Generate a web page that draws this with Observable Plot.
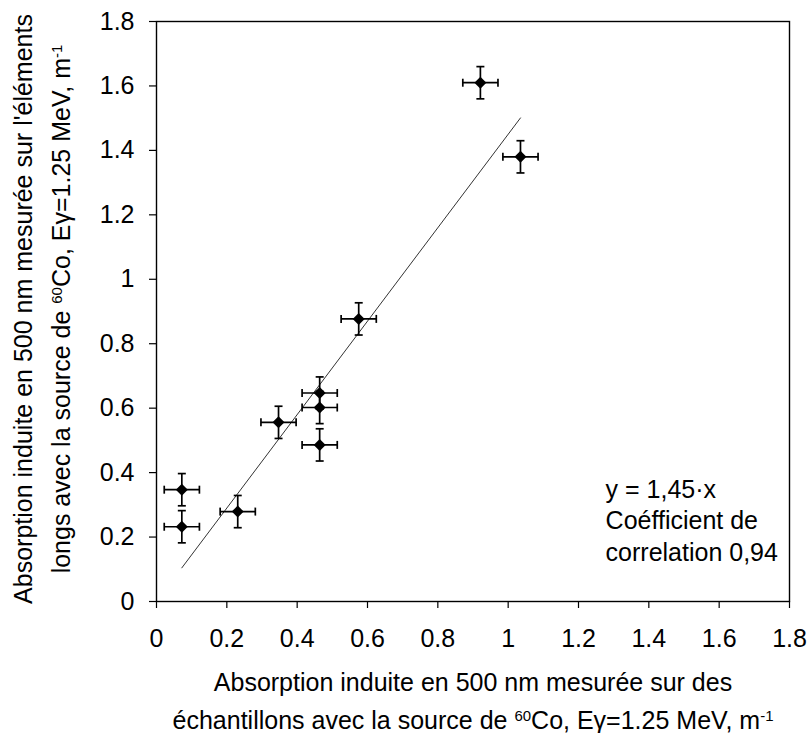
<!DOCTYPE html>
<html><head><meta charset="utf-8">
<script src="https://cdn.jsdelivr.net/npm/d3@7"></script>
<script src="https://cdn.jsdelivr.net/npm/@observablehq/plot@0.6"></script>
<style>
body{margin:0;background:#fff}
#chart svg{font-family:"Liberation Sans",Arial,sans-serif}
</style>
</head><body><div id="chart"></div>
<script>
// Data
const xValues = [0.921, 1.035, 0.575, 0.464, 0.464, 0.464, 0.347, 0.231, 0.072, 0.072];
const yValues = [1.610, 1.380, 0.877, 0.647, 0.602, 0.486, 0.556, 0.279, 0.347, 0.232];
const xErrors = [0.05, 0.05, 0.05, 0.05, 0.05, 0.05, 0.05, 0.05, 0.05, 0.05];
const yErrors = [0.05, 0.05, 0.05, 0.05, 0.05, 0.05, 0.05, 0.05, 0.05, 0.05];
const fitSlope = 1.45;
const fitXRange = [0.072, 1.035];
const tickValues = [0, 0.2, 0.4, 0.6, 0.8, 1, 1.2, 1.4, 1.6, 1.8];
const tickLabels = ["0", "0.2", "0.4", "0.6", "0.8", "1", "1.2", "1.4", "1.6", "1.8"];
const annotationLines = ["y = 1,45·x", "Coéfficient de", "correlation 0,94"];
const annotationX = 1.277;
const annotationY = [0.345, 0.249, 0.150];

const points = xValues.map((x, i) => ({x, y: yValues[i], ex: xErrors[i], ey: yErrors[i]}));
const fitLine = fitXRange.map(x => ({x, y: fitSlope * x}));
const annotations = annotationLines.map((t, i) => ({t, x: annotationX, y: annotationY[i]}));
const fmt = d => tickLabels[tickValues.indexOf(d)] ?? String(d);

const vCap = {draw(ctx) { ctx.moveTo(0, -4); ctx.lineTo(0, 4); }};
const hCap = {draw(ctx) { ctx.moveTo(-4, 0); ctx.lineTo(4, 0); }};

const W = 809, H = 733;
const chart = Plot.plot({
  width: W, height: H,
  marginLeft: 156, marginRight: 20, marginTop: 21, marginBottom: 132,
  style: {fontSize: "25px", fontFamily: "Liberation Sans, Arial, sans-serif", background: "#fff", color: "#000"},
  x: {domain: [0, 1.8]},
  y: {domain: [0, 1.8]},
  marks: [
    Plot.frame({stroke: "#000", strokeWidth: 1.4}),
    Plot.axisX({ticks: tickValues, tickFormat: fmt, tickSize: 7, tickPadding: 21, label: null, stroke: "#000", strokeWidth: 1.2}),
    Plot.axisY({ticks: tickValues, tickFormat: fmt, tickSize: 7, tickPadding: 15, label: null, stroke: "#000", strokeWidth: 1.2}),
    Plot.line(fitLine, {x: "x", y: "y", stroke: "#333", strokeWidth: 1}),
    Plot.link(points, {x1: d => d.x - d.ex, x2: d => d.x + d.ex, y1: "y", y2: "y", stroke: "#000", strokeWidth: 1.7}),
    Plot.link(points, {x1: "x", x2: "x", y1: d => d.y - d.ey, y2: d => d.y + d.ey, stroke: "#000", strokeWidth: 1.7}),
    Plot.dot(points, {x: d => d.x - d.ex, y: "y", symbol: vCap, stroke: "#000", fill: "none", strokeWidth: 1.7}),
    Plot.dot(points, {x: d => d.x + d.ex, y: "y", symbol: vCap, stroke: "#000", fill: "none", strokeWidth: 1.7}),
    Plot.dot(points, {x: "x", y: d => d.y - d.ey, symbol: hCap, stroke: "#000", fill: "none", strokeWidth: 1.7}),
    Plot.dot(points, {x: "x", y: d => d.y + d.ey, symbol: hCap, stroke: "#000", fill: "none", strokeWidth: 1.7}),
    Plot.dot(points, {x: "x", y: "y", symbol: "diamond2", r: 5.4, fill: "#000", stroke: "none"}),
    Plot.text(annotations, {x: "x", y: "y", text: "t", textAnchor: "start", fontSize: 25, fill: "#000"})
  ]
});

const svg = d3.select(chart);
function addTitle(g, parts) {
  parts.forEach(p => {
    const ts = g.append("tspan").text(p.t);
    if (p.sup) ts.attr("baseline-shift", "super").attr("font-size", "15px");
  });
}
// X axis title
const xt1 = svg.append("text").attr("x", 473).attr("y", 691).attr("text-anchor", "middle").attr("font-size", 25).attr("fill", "#000");
addTitle(xt1, [{t: "Absorption induite en 500 nm mesurée sur des"}]);
const xt2 = svg.append("text").attr("x", 473).attr("y", 729).attr("text-anchor", "middle").attr("font-size", 25).attr("fill", "#000");
addTitle(xt2, [{t: "échantillons avec la source de "}, {t: "60", sup: true}, {t: "Co, Eγ=1.25 MeV, m"}, {t: "-1", sup: true}]);
// Y axis title
const yt1 = svg.append("text").attr("transform", "translate(32,309) rotate(-90)").attr("text-anchor", "middle").attr("font-size", 25).attr("fill", "#000");
addTitle(yt1, [{t: "Absorption induite en 500 nm mesurée sur l'éléments"}]);
const yt2 = svg.append("text").attr("transform", "translate(70,309) rotate(-90)").attr("text-anchor", "middle").attr("font-size", 25).attr("fill", "#000");
addTitle(yt2, [{t: "longs avec la source de "}, {t: "60", sup: true}, {t: "Co, Eγ=1.25 MeV, m"}, {t: "-1", sup: true}]);

document.getElementById("chart").append(chart);
</script>
</body></html>
